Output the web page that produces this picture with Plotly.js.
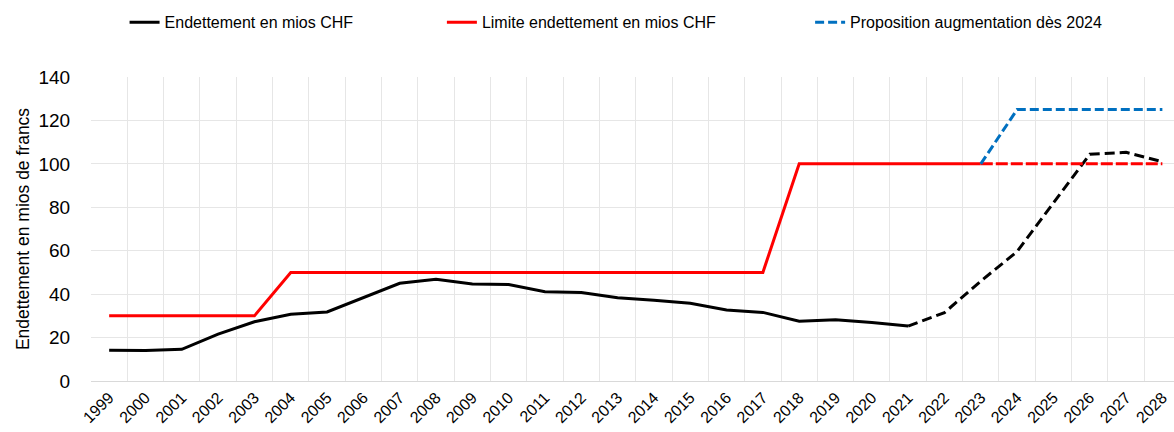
<!DOCTYPE html>
<html>
<head>
<meta charset="utf-8">
<script src="https://cdn.plot.ly/plotly-3.0.1.min.js"></script>
<style>html,body{margin:0;padding:0;background:#fff}#chart{width:1174px;height:432px}</style>
</head>
<body>
<div id="chart"></div>
<script>
const years = [1999,2000,2001,2002,2003,2004,2005,2006,2007,2008,2009,2010,2011,2012,2013,2014,2015,2016,2017,2018,2019,2020,2021,2022,2023,2024,2025,2026,2027,2028];
const debt = [14.2,14.0,14.6,21.6,27.3,30.7,31.8,38.3,45.0,46.8,44.7,44.4,41.1,40.7,38.3,37.2,35.8,32.7,31.6,27.5,28.2,26.9,25.3,31.5,46.0,59.6,82.0,104.4,105.3,101.0];
const limit = [30,30,30,30,30,50,50,50,50,50,50,50,50,50,50,50,50,50,50,100,100,100,100,100,100,100,100,100,100,100];
const proposal = [null,null,null,null,null,null,null,null,null,null,null,null,null,null,null,null,null,null,null,null,null,null,null,null,100,125,125,125,125,125];
const lastActualYear = 2021;
const lastLimitYear = 2023;
const seriesNames = ["Endettement en mios CHF","Limite endettement en mios CHF","Proposition augmentation dès 2024"];

const iA = years.indexOf(lastActualYear);
const iL = years.indexOf(lastLimitYear);
const gridX = years.map(y => y - 0.5);

const traces = [
  {x: years.slice(0, iA+1), y: debt.slice(0, iA+1), mode:'lines', name: seriesNames[0], legend:'legend',
   line:{color:'#000000', width:3}},
  {x: years.slice(iA), y: debt.slice(iA), mode:'lines', showlegend:false,
   line:{color:'#000000', width:3, dash:'10px,5px'}},
  {x: years.slice(0, iL+1), y: limit.slice(0, iL+1), mode:'lines', name: seriesNames[1], legend:'legend2',
   line:{color:'#ff0000', width:3}},
  {x: years.slice(iL), y: limit.slice(iL), mode:'lines', showlegend:false,
   line:{color:'#ff0000', width:3, dash:'12px,3px'}},
  {x: years, y: proposal, mode:'lines', name: seriesNames[2], legend:'legend3', connectgaps:false,
   line:{color:'#0070c0', width:3, dash:'9px,4px'}}
];

const lf = {family:'Liberation Sans, Arial, sans-serif', size:16, color:'#000'};
const layout = {
  width:1174, height:432,
  margin:{l:91, r:0, t:77, b:51},
  paper_bgcolor:'#fff', plot_bgcolor:'#fff',
  font:{family:'Liberation Sans, Arial, sans-serif', color:'#000'},
  showlegend:true,
  legend:{x:0.031, y:1.18, xanchor:'left', yanchor:'middle', orientation:'h', font:lf, bgcolor:'rgba(0,0,0,0)'},
  legend2:{x:0.324, y:1.18, xanchor:'left', yanchor:'middle', orientation:'h', font:lf, bgcolor:'rgba(0,0,0,0)'},
  legend3:{x:0.664, y:1.18, xanchor:'left', yanchor:'middle', orientation:'h', font:lf, bgcolor:'rgba(0,0,0,0)'},
  xaxis:{
    range:[1998.5, 2028.32], tickmode:'array', tickvals: years, ticktext: years.map(String),
    tickangle:-45, tickfont:{size:16, color:'#000'}, showgrid:false, zeroline:false,
    ticks:'', showline:true, linecolor:'#d9d9d9', linewidth:1, ticklabeloverflow:'allow',
    minor:{tickmode:'array', tickvals: gridX, showgrid:true, gridcolor:'#e6e6e6', gridwidth:1, ticks:''},
    fixedrange:true
  },
  yaxis:{
    range:[0,140], dtick:20, tick0:0, tickfont:{size:19, color:'#000'},
    showgrid:true, gridcolor:'#e6e6e6', gridwidth:1, zeroline:false, showline:false,
    ticks:'outside', ticklen:16, tickcolor:'rgba(0,0,0,0)',
    title:{text:'Endettement en mios de francs', font:{size:17.5, color:'#000'}, standoff:4},
    fixedrange:true
  }
};
Plotly.newPlot('chart', traces, layout, {displayModeBar:false, staticPlot:true});
</script>
</body>
</html>
